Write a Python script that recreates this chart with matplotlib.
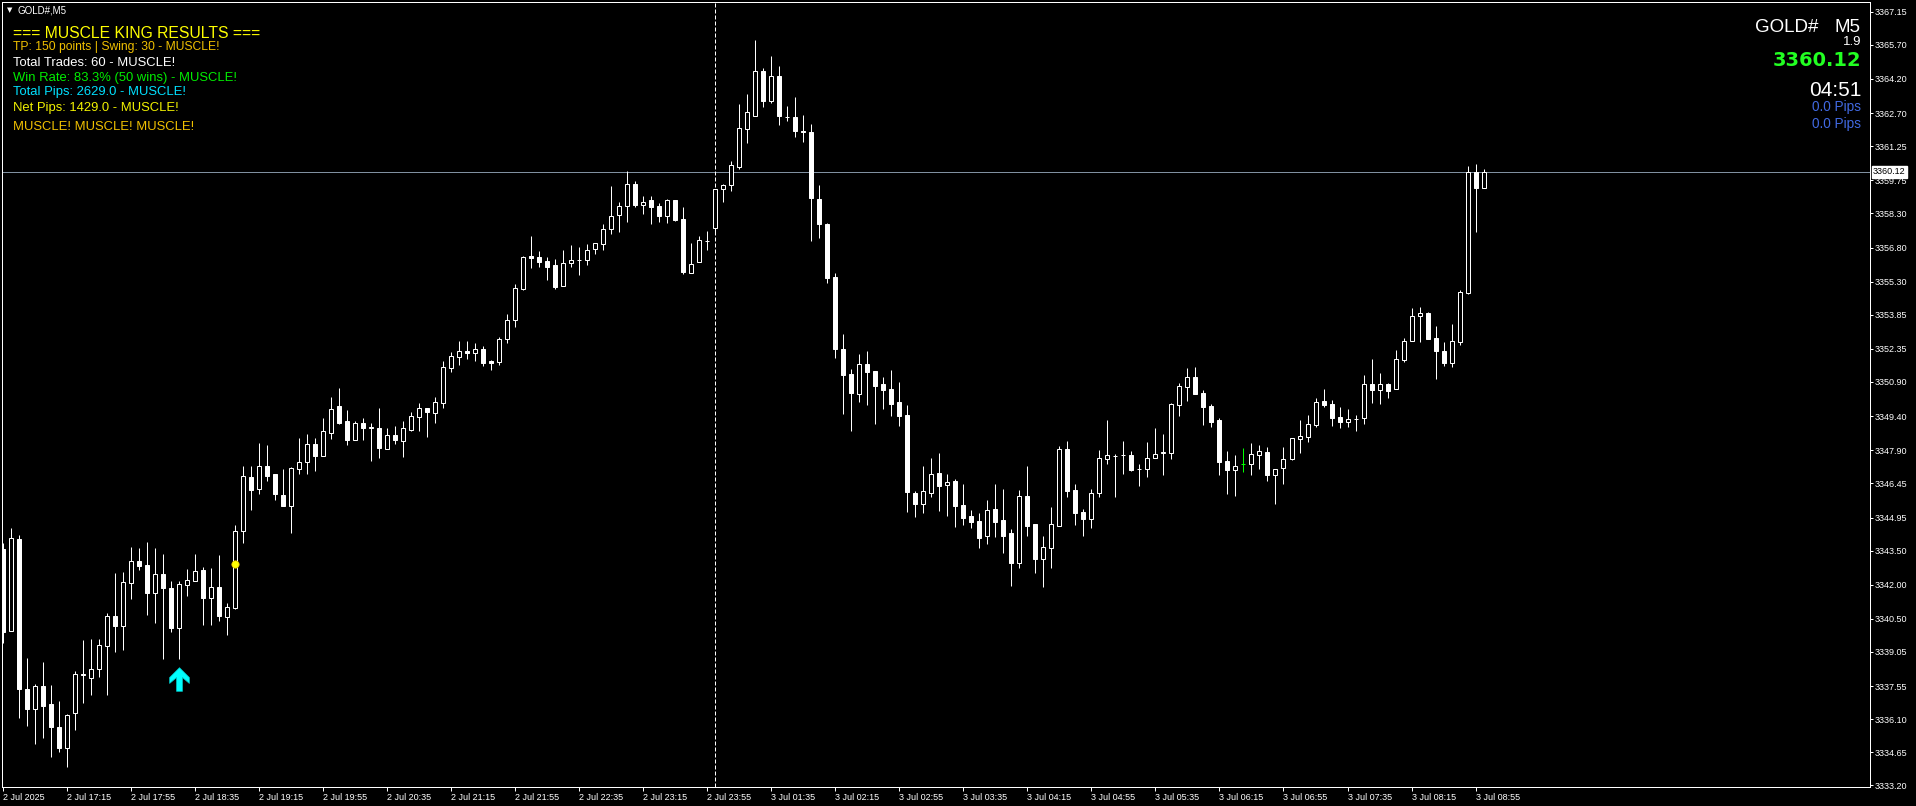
import matplotlib
matplotlib.use("Agg")
import matplotlib.pyplot as plt
from matplotlib.path import Path

plt.rcParams['font.family'] = ['Liberation Sans', 'DejaVu Sans']

W, H, DPI = 1916, 806, 100

# GOLD# M5 candles, 2 Jul 16:35 .. 3 Jul 09:00
o = [3343.56, 3339.98, 3344.00, 3337.42, 3336.55, 3337.54, 3336.75, 3335.75, 3334.84, 3336.38,
     3338.10, 3337.89, 3338.28, 3339.32, 3340.61, 3340.20, 3342.08, 3343.02, 3342.85, 3341.65,
     3342.45, 3341.84, 3340.11, 3342.00, 3342.17, 3342.63, 3341.43, 3341.88, 3340.59, 3340.99,
     3344.34, 3346.72, 3346.21, 3347.19, 3346.84, 3345.96, 3345.46, 3347.09, 3347.40, 3348.19,
     3347.66, 3348.64, 3349.83, 3349.18, 3348.36, 3349.12, 3348.90, 3348.90, 3347.97, 3348.56,
     3348.32, 3348.80, 3349.37, 3349.74, 3349.55, 3349.99, 3351.52, 3351.98, 3352.24, 3352.15,
     3352.33, 3351.80, 3351.79, 3352.77, 3353.60, 3354.99, 3356.43, 3356.37, 3356.21, 3356.03,
     3355.12, 3356.11, 3356.24, 3356.24, 3356.72, 3356.97, 3357.62, 3358.24, 3358.61, 3359.57,
     3358.68, 3358.87, 3358.61, 3358.17, 3358.87, 3358.05, 3355.69, 3356.15, 3357.07, 3357.67,
     3359.35, 3359.56, 3360.35, 3362.01, 3362.58, 3364.53, 3363.25, 3364.32, 3362.55, 3362.51,
     3361.90, 3361.87, 3358.93, 3357.83, 3355.50, 3352.34, 3351.25, 3350.38, 3351.69, 3351.38,
     3350.80, 3350.59, 3350.00, 3349.45, 3346.02, 3345.55, 3346.04, 3346.90, 3346.39, 3346.56,
     3345.49, 3345.01, 3344.79, 3344.15, 3345.32, 3344.84, 3344.27, 3342.97, 3345.88, 3344.66,
     3343.11, 3343.62, 3344.59, 3347.95, 3346.15, 3345.19, 3344.90, 3346.04, 3347.53, 3347.66,
     3347.68, 3347.68, 3347.07, 3347.09, 3347.55, 3347.80, 3347.79, 3349.90, 3350.69, 3351.10,
     3350.41, 3349.84, 3349.23, 3347.43, 3347.05, 3347.32, 3347.31, 3347.70, 3347.81, 3346.81,
     3347.13, 3347.51, 3348.41, 3348.49, 3349.01, 3350.06, 3349.93, 3349.36, 3349.14, 3349.26,
     3349.31, 3350.79, 3350.54, 3350.79, 3350.60, 3351.86, 3352.71, 3353.78, 3353.92, 3352.81,
     3352.26, 3351.74, 3352.65, 3354.82, 3360.10, 3359.43]
h = [3343.81, 3344.47, 3344.18, 3338.78, 3337.62, 3338.59, 3337.58, 3336.88, 3336.32, 3338.21,
     3339.57, 3339.60, 3339.60, 3340.78, 3342.50, 3342.54, 3343.65, 3343.61, 3343.86, 3343.59,
     3343.34, 3342.15, 3342.15, 3342.69, 3343.34, 3342.77, 3342.72, 3343.30, 3341.19, 3344.60,
     3347.21, 3347.21, 3348.22, 3348.13, 3346.84, 3347.06, 3347.18, 3348.44, 3348.60, 3348.44,
     3349.30, 3350.24, 3350.63, 3349.67, 3349.18, 3349.30, 3349.08, 3349.74, 3348.87, 3348.95,
     3349.18, 3349.56, 3349.96, 3349.74, 3350.22, 3351.80, 3352.20, 3352.69, 3352.69, 3352.59,
     3352.46, 3351.87, 3352.86, 3353.90, 3355.20, 3356.43, 3357.30, 3356.66, 3356.38, 3356.29,
     3356.69, 3356.91, 3356.82, 3356.95, 3356.98, 3357.82, 3359.50, 3358.78, 3360.16, 3359.72,
     3359.06, 3359.06, 3358.77, 3358.93, 3358.87, 3358.58, 3357.01, 3357.30, 3357.52, 3359.35,
     3359.59, 3360.60, 3363.10, 3363.54, 3365.90, 3364.67, 3365.20, 3364.76, 3363.01, 3363.41,
     3362.61, 3362.23, 3359.54, 3357.88, 3355.67, 3353.00, 3351.47, 3352.12, 3352.25, 3351.38,
     3351.11, 3351.42, 3350.89, 3349.88, 3346.11, 3347.21, 3347.57, 3347.77, 3346.85, 3346.63,
     3346.44, 3345.30, 3345.15, 3345.71, 3346.42, 3346.20, 3344.44, 3346.14, 3347.21, 3344.66,
     3344.14, 3345.41, 3348.09, 3348.31, 3346.42, 3345.32, 3346.20, 3347.90, 3349.23, 3347.76,
     3348.31, 3347.85, 3347.30, 3348.26, 3348.90, 3348.61, 3349.97, 3350.84, 3351.51, 3351.55,
     3350.54, 3349.93, 3349.31, 3347.87, 3347.69, 3347.98, 3348.22, 3348.13, 3348.04, 3347.10,
     3348.04, 3348.42, 3349.23, 3349.45, 3350.19, 3350.59, 3350.10, 3349.80, 3349.71, 3349.45,
     3351.20, 3351.90, 3351.29, 3350.85, 3352.30, 3352.81, 3354.14, 3354.19, 3353.97, 3353.35,
     3352.65, 3353.44, 3354.92, 3360.38, 3360.45, 3360.23]
l = [3339.45, 3339.95, 3336.16, 3335.79, 3335.02, 3335.28, 3334.45, 3334.66, 3334.00, 3335.62,
     3336.82, 3337.15, 3337.96, 3337.15, 3339.06, 3339.14, 3341.37, 3342.65, 3340.68, 3340.33,
     3338.75, 3339.93, 3338.75, 3341.51, 3342.17, 3340.24, 3340.24, 3340.42, 3339.80, 3340.94,
     3343.84, 3345.29, 3345.99, 3346.56, 3345.73, 3345.46, 3344.28, 3346.87, 3346.87, 3347.00,
     3347.66, 3348.41, 3349.05, 3348.14, 3348.36, 3348.36, 3347.44, 3347.57, 3347.97, 3348.19,
     3347.62, 3348.76, 3348.76, 3348.49, 3349.11, 3349.77, 3351.35, 3351.65, 3351.92, 3351.83,
     3351.61, 3351.43, 3351.65, 3352.60, 3353.30, 3354.93, 3355.91, 3355.94, 3355.39, 3354.96,
     3355.12, 3355.93, 3355.60, 3356.05, 3356.50, 3356.68, 3357.40, 3357.49, 3357.93, 3358.59,
     3358.28, 3357.84, 3357.93, 3357.89, 3357.98, 3355.65, 3355.69, 3356.15, 3356.70, 3357.47,
     3358.81, 3359.29, 3360.23, 3361.37, 3362.58, 3362.98, 3363.13, 3362.17, 3362.36, 3361.65,
     3361.42, 3357.09, 3357.21, 3355.24, 3351.94, 3349.49, 3348.75, 3350.01, 3349.90, 3349.05,
     3349.72, 3349.42, 3348.98, 3345.19, 3344.98, 3345.15, 3345.84, 3345.25, 3345.03, 3344.52,
     3344.60, 3344.48, 3343.62, 3343.77, 3344.10, 3343.40, 3341.95, 3342.75, 3344.15, 3342.53,
     3341.91, 3342.75, 3344.59, 3345.86, 3344.63, 3344.15, 3344.50, 3345.86, 3347.31, 3345.86,
     3346.86, 3347.00, 3346.34, 3346.74, 3347.55, 3346.83, 3347.53, 3349.42, 3350.08, 3350.38,
     3349.02, 3348.92, 3346.83, 3345.98, 3345.89, 3346.95, 3346.81, 3347.08, 3346.55, 3345.54,
     3346.43, 3347.48, 3347.79, 3348.26, 3348.92, 3349.80, 3348.96, 3348.90, 3348.92, 3348.74,
     3349.05, 3349.96, 3349.93, 3350.21, 3350.60, 3351.77, 3352.71, 3352.66, 3352.80, 3351.04,
     3351.60, 3351.57, 3352.53, 3354.76, 3357.49, 3359.43]
c = [3339.93, 3344.03, 3337.43, 3336.55, 3337.54, 3336.69, 3335.76, 3334.84, 3336.26, 3338.06,
     3338.03, 3338.28, 3339.34, 3340.61, 3340.20, 3342.10, 3343.02, 3342.83, 3341.65, 3342.45,
     3341.87, 3340.11, 3342.01, 3342.19, 3342.59, 3341.43, 3341.88, 3340.64, 3341.00, 3344.34,
     3346.76, 3346.17, 3347.19, 3346.78, 3345.99, 3345.46, 3347.11, 3347.40, 3348.19, 3347.66,
     3348.73, 3349.72, 3349.09, 3348.36, 3349.12, 3348.89, 3348.92, 3348.01, 3348.56, 3348.36,
     3348.86, 3349.39, 3349.74, 3349.59, 3350.00, 3351.54, 3352.06, 3352.24, 3352.15, 3352.33,
     3351.74, 3351.74, 3352.77, 3353.60, 3355.01, 3356.37, 3356.36, 3356.18, 3355.96, 3355.08,
     3356.11, 3356.25, 3356.26, 3356.69, 3356.98, 3357.62, 3358.19, 3358.61, 3359.57, 3358.68,
     3358.81, 3358.59, 3358.19, 3358.87, 3358.01, 3355.72, 3356.06, 3357.12, 3357.08, 3359.35,
     3359.54, 3360.41, 3362.03, 3362.73, 3364.53, 3363.25, 3364.32, 3362.58, 3362.52, 3361.93,
     3361.87, 3358.99, 3357.83, 3355.46, 3352.34, 3351.20, 3350.41, 3351.68, 3351.35, 3350.74,
     3350.56, 3349.94, 3349.42, 3346.08, 3345.55, 3346.10, 3346.85, 3346.35, 3346.53, 3345.47,
     3344.92, 3344.76, 3344.06, 3345.28, 3344.75, 3344.15, 3342.97, 3345.88, 3344.59, 3343.14,
     3343.64, 3344.66, 3347.95, 3346.13, 3345.16, 3344.90, 3346.01, 3347.55, 3347.68, 3347.67,
     3347.69, 3347.05, 3347.06, 3347.55, 3347.76, 3347.82, 3349.92, 3350.71, 3351.10, 3350.38,
     3349.81, 3349.15, 3347.38, 3347.05, 3347.20, 3347.32, 3347.72, 3347.85, 3346.81, 3347.10,
     3347.52, 3348.42, 3348.55, 3349.04, 3350.00, 3349.89, 3349.31, 3349.14, 3349.27, 3349.27,
     3350.79, 3350.54, 3350.79, 3350.51, 3351.89, 3352.72, 3353.78, 3353.91, 3352.80, 3352.27,
     3351.74, 3352.72, 3354.83, 3360.10, 3359.43, 3360.12]

x_labels = ['2 Jul 2025', '2 Jul 17:15', '2 Jul 17:55', '2 Jul 18:35', '2 Jul 19:15', '2 Jul 19:55',
            '2 Jul 20:35', '2 Jul 21:15', '2 Jul 21:55', '2 Jul 22:35', '2 Jul 23:15', '2 Jul 23:55',
            '3 Jul 01:35', '3 Jul 02:15', '3 Jul 02:55', '3 Jul 03:35', '3 Jul 04:15', '3 Jul 04:55',
            '3 Jul 05:35', '3 Jul 06:15', '3 Jul 06:55', '3 Jul 07:35', '3 Jul 08:15', '3 Jul 08:55']
label_step = 8
y_ticks = [3367.15, 3365.70, 3364.20, 3362.70, 3361.25, 3359.75, 3358.30, 3356.80, 3355.30, 3353.85,
           3352.35, 3350.90, 3349.40, 3347.90, 3346.45, 3344.95, 3343.50, 3342.00, 3340.50, 3339.05,
           3337.55, 3336.10, 3334.65, 3333.20]

signal_bar, signal_price = 22, 3337.87     # cyan buy arrow
swing_bar, swing_price = 29, 3342.90       # yellow dot
day_sep_bar = 89                           # 3 Jul period separator

info_lines = [("=== MUSCLE KING RESULTS ===", '#ffff00', 11.3, 33),
              ("TP: 150 points | Swing: 30 - MUSCLE!", '#f0c000', 8.7, 47),
              ("Total Trades: 60 - MUSCLE!", 'white', 9.4, 62.5),
              ("Win Rate: 83.3% (50 wins) - MUSCLE!", '#00ee00', 9.4, 78),
              ("Total Pips: 2629.0 - MUSCLE!", '#00e0ff', 9.4, 92.5),
              ("Net Pips: 1429.0 - MUSCLE!", '#f2f200', 9.4, 107.5),
              ("MUSCLE! MUSCLE! MUSCLE!", '#f0c000', 9.4, 127.5)]

PX = 0.72  # one pixel in points


def fx(x):
    return x / W


def fy(y):
    return 1 - y / H


fig = plt.figure(figsize=(W / DPI, H / DPI), dpi=DPI, facecolor='black')
left, top, right, bottom = 2, 2, 1870, 787
ax = fig.add_axes([fx(left), fy(bottom), (right - left) / W, (bottom - top) / H])
ax.set_facecolor('black')
ax.set_xlim(-0.16, 233.3)
ax.set_ylim(3333.12, 3367.58)

# candles: bull = hollow, bear = white, flat = line colour
n = len(c)
idx = list(range(n))
body_lo = [min(a, b) for a, b in zip(o, c)]
body_h = [abs(a - b) for a, b in zip(o, c)]
face = []
edge = []
for a, b in zip(o, c):
    if b > a:
        face.append('black'); edge.append('white')
    elif b < a:
        face.append('white'); edge.append('white')
    else:
        face.append('#00ff00'); edge.append('#00ff00')
ax.vlines(idx, l, h, colors=edge, lw=PX, zorder=2)
ax.bar(idx, body_h, bottom=body_lo, width=0.5, color=face, edgecolor=edge, lw=PX, zorder=3)

# bid line and day separator
ax.axhline(c[-1], color='#8090a0', lw=PX, zorder=1)
ax.axvline(day_sep_bar, color='white', lw=PX, ls=(0, (4, 2)), zorder=1)

# signals
arrow = Path([(0, 12), (10, 2), (10, -4), (3, 2), (3, -12), (-3, -12), (-3, 2), (-10, -4), (-10, 2), (0, 12)])
ax.plot(signal_bar, signal_price, marker=arrow, ms=17, color='#00ffff', mec='#00c8c8', mew=0.5, zorder=5)
ax.plot(swing_bar, swing_price, marker='o', ms=5.3, color='#ffff00', mec='#e8c000', mew=0.5, zorder=5)

# axes look
for s in ax.spines.values():
    s.set_color('white')
    s.set_linewidth(PX)
ax.set_xticks(range(0, n, label_step))
ax.set_xticklabels(x_labels)
for t in ax.get_xticklabels():
    t.set_ha('left')
ax.tick_params(axis='x', direction='out', length=3, width=PX, colors='white', labelsize=6.5, pad=1.5)
ax.yaxis.tick_right()
ax.set_yticks(y_ticks)
ax.set_yticklabels([f'{v:.2f}' for v in y_ticks])
ax.tick_params(axis='y', direction='out', length=2.2, width=PX, colors='white', labelsize=6.5, pad=1.5)

ax.text(1.0015, c[-1], f'{c[-1]:.2f}', transform=ax.get_yaxis_transform(), color='black',
        fontsize=6.5, va='center', ha='left', zorder=10, clip_on=False,
        bbox=dict(boxstyle='square,pad=0.12', fc='white', ec='white'))

# top-left texts
fig.text(fx(7), fy(10.5), '\u25bc', color='white', fontsize=5, va='center', family='DejaVu Sans')
fig.text(fx(18), fy(10.5), 'GOLD#,M5', color='white', fontsize=7, va='center')
for txt, col, size, ypos in info_lines:
    fig.text(fx(13), fy(ypos), txt, color=col, fontsize=size, va='center')

# top-right panel
fig.text(fx(1755), fy(28), 'GOLD#', color='white', fontsize=13.5, va='center')
fig.text(fx(1861), fy(28), 'M5', color='white', fontsize=13.5, va='center', ha='right')
fig.text(fx(1861), fy(42), '1.9', color='white', fontsize=9.5, va='center', ha='right')
fig.text(fx(1861), fy(61), f'{c[-1]:.2f}', color='#22ff22', fontsize=14, va='center', ha='right',
         family='DejaVu Sans', weight='bold')
fig.text(fx(1861), fy(90), '04:51', color='white', fontsize=15, va='center', ha='right')
fig.text(fx(1861), fy(107), '0.0 Pips', color='#4169e1', fontsize=9.8, va='center', ha='right')
fig.text(fx(1861), fy(124), '0.0 Pips', color='#4169e1', fontsize=9.8, va='center', ha='right')

fig.savefig('out.png', dpi=DPI, facecolor='black')
